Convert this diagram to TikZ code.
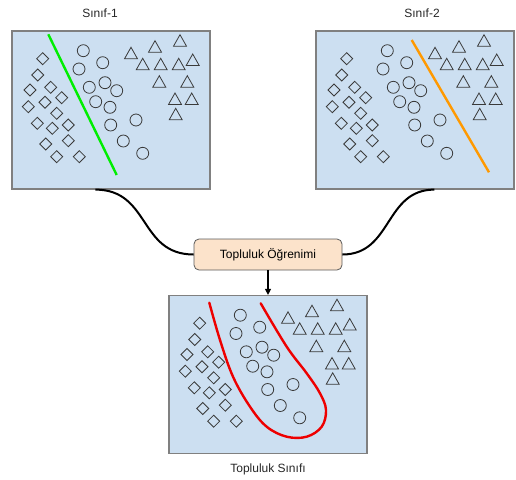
\documentclass[tikz,border=0pt]{standalone}
\usepackage{fontspec}
\setmainfont{Liberation Sans}
\usetikzlibrary{arrows.meta,calc}
\definecolor{panelfill}{HTML}{CCDFF1}
\definecolor{panelline}{HTML}{808080}
\definecolor{boxfill}{HTML}{FCE3CB}
\definecolor{boxline}{HTML}{5A5A5A}
\definecolor{shapeline}{HTML}{3A3A3A}
\definecolor{greenline}{HTML}{00EE00}
\definecolor{orangeline}{HTML}{FF9900}
\definecolor{redline}{HTML}{EE0000}
\tikzset{
  panel/.style={draw=panelline, fill=panelfill, line width=1.2pt, minimum width=198pt, minimum height=158pt, inner sep=0pt},
  learnbox/.style={draw=boxline, fill=boxfill, rounded corners=5pt, line width=0.8pt, minimum width=148pt, minimum height=31pt, font=\fontsize{12}{14}\selectfont},
  lbl/.style={font=\fontsize{12}{14}\selectfont, text=black!85},
  shp/.style={draw=shapeline, line width=0.8pt},
  conn/.style={draw=black, line width=2pt},
  sep/.style={line width=2.4pt},
}
\newcommand\PanelShapes{%
  \foreach \x/\y in {30.7/27.7,25.7/44,38.7/56.3,18/59,49.7/66.7,33/71.3,16.3/75.7,44.7/82.3,25.3/92.3,40.3/97.3,56.3/94,33.7/113,56.3/109.7,44.7/125.7,67.3/125.7}
    {\draw[shp] (\x-6,\y) -- (\x,\y-6) -- (\x+6,\y) -- (\x,\y+6) -- cycle;}
  \foreach \x/\y in {71.3/19.7,90.7/31.7,67/38,77.3/56.3,93/51.7,104.7/59.7,83.7/70.7,98/76.3,98.7/94,124/89,111.3/110,130.7/122.3}
    {\draw[shp] (\x,\y) circle[radius=6];}
  \foreach \x/\y in {119/22.3,143/15.7,168/9.7,130.7/33.3,148.7/33.3,166.7/33.3,180.7/29,147.3/50.7,175.3/50.7,163/68,179.7/68,163.7/83.3}
    {\draw[shp,line join=miter] (\x-6.5,\y+5.5) -- (\x+6.5,\y+5.5) -- (\x,\y-6) -- cycle;}
}
\begin{document}
\begin{tikzpicture}[x=1pt,y=-1pt]
\useasboundingbox (0,0) rectangle (516,479);
% panels
\node[panel] (p1) at (111,110) {};
\node[panel] (p2) at (415,110) {};
\node[panel] (p3) at (268,374.5) {};
\begin{scope}[shift={(12,31)}]\PanelShapes\end{scope}
\begin{scope}[shift={(316,31)}]\PanelShapes\end{scope}
\begin{scope}[shift={(169,295.5)}]\PanelShapes\end{scope}
% separators
\draw[sep,greenline] (48.3,34.3) -- (116.7,175);
\draw[sep,orangeline] (411.7,40) -- (489,172.3);
\draw[sep,redline,line cap=round] plot[smooth,tension=0.6] coordinates {(209.3,302.7) (220,340) (233,376.7) (250,406.7) (266.7,426.7) (286.7,436.7) (306.7,436.7) (321.7,426.7) (326,410) (320,393.3) (306.7,373.3) (286.7,346.7) (260.7,303.3)};
% labels
\node[lbl] (l1) at (100,13) {Sınıf-1};
\node[lbl] (l2) at (422,13) {Sınıf-2};
\node[lbl] (l3) at (268,469) {Topluluk Sınıfı};
% learning box
\node[learnbox] (tl) at (268,254.5) {Topluluk Öğrenimi};
% connectors
\coordinate (s1) at ($(p1.south west)+(84,0)$);
\coordinate (s2) at ($(p2.south west)+(119,0)$);
\draw[conn] (s1) .. controls ++(55,0) and ($(tl.west)+(-55,0)$) .. (tl.west);
\draw[conn] (s2) .. controls ++(-50,0) and ($(tl.east)+(50,0)$) .. (tl.east);
\draw[line width=1.2pt,-{Triangle[length=6pt,width=6pt]}] (tl.south) -- (p3.north);
\end{tikzpicture}
\end{document}
